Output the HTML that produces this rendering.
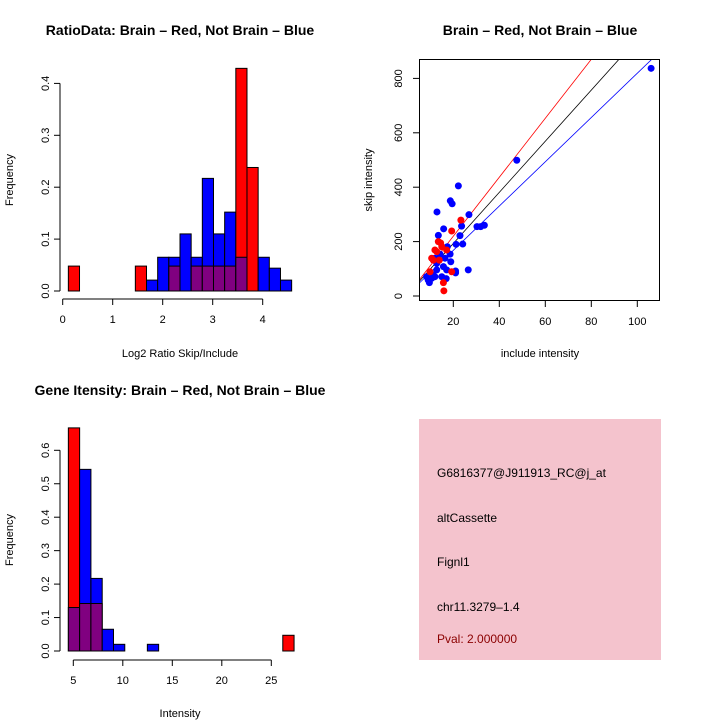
<!DOCTYPE html>
<html><head><meta charset="utf-8"><style>
body{margin:0;background:#fff;}
svg text{font-family:"Liberation Sans",sans-serif;}
</style></head><body>
<svg id="c" width="720" height="720" xmlns="http://www.w3.org/2000/svg">
<rect x="0" y="0" width="720" height="720" fill="#fff"/>
<text x="180" y="35" font-size="14" font-weight="bold" text-anchor="middle">RatioData: Brain – Red, Not Brain – Blue</text>
<text x="540" y="35" font-size="14" font-weight="bold" text-anchor="middle">Brain – Red, Not Brain – Blue</text>
<text x="180" y="395" font-size="14" font-weight="bold" text-anchor="middle">Gene Itensity: Brain – Red, Not Brain – Blue</text>
<text x="180" y="357" font-size="11" text-anchor="middle">Log2 Ratio Skip/Include</text>
<text transform="translate(13,180) rotate(-90)" font-size="11" text-anchor="middle">Frequency</text>
<text x="540" y="357" font-size="11" text-anchor="middle">include intensity</text>
<text transform="translate(372,180) rotate(-90)" font-size="11" text-anchor="middle">skip intensity</text>
<text x="180" y="717" font-size="11" text-anchor="middle">Intensity</text>
<text transform="translate(13,540) rotate(-90)" font-size="11" text-anchor="middle">Frequency</text>
<g>
<rect x="419" y="419" width="242" height="241" fill="#f4c3cd"/>
<text x="437" y="477" font-size="12">G6816377@J911913_RC@j_at</text>
<text x="437" y="522" font-size="12">altCassette</text>
<text x="437" y="566" font-size="12">Fignl1</text>
<text x="437" y="611" font-size="12">chr11.3279–1.4</text>
<text x="437" y="643" font-size="12" fill="#8b0000">Pval: 2.000000</text>
</g>
</svg>
<script>
// Ratio histogram data
const ratioRed = [0.048,0,0,0,0,0,0.048,0,0,0.048,0,0.048,0.048,0.048,0.048,0.429,0.238,0,0,0];
const ratioBlue = [0,0,0,0,0,0,0,0.021,0.065,0.065,0.11,0.065,0.217,0.11,0.152,0.065,0,0.065,0.044,0.021];
const ratioXTicks = [0,1,2,3,4];
const ratioYTicks = [0,0.1,0.2,0.3,0.4];
// Intensity histogram data
const intRed = [0.667,0.142,0.142,0,0,0,0,0,0,0,0,0,0,0,0,0,0,0,0,0.047];
const intBlue = [0.13,0.543,0.217,0.065,0.02,0,0,0.02,0,0,0,0,0,0,0,0,0,0,0,0];
const intXTicks = [5,10,15,20,25];
const intYTicks = [0,0.1,0.2,0.3,0.4,0.5,0.6];
// Scatter data
const blueX = [106,47.6,22.2,18.7,19.5,12.9,26.8,23.6,15.8,22.9,13.5,24.1,21.2,31.9,33.5,30.3,17.4,18.6,14.2,16.4,18.9,12.0,12.8,15.7,21.0,21.0,26.5,17.1,12.8,15.0,16.9,11.3,10.6,9.1,9.6,12.0,8.4];
const blueY = [837,499,405,350,339,309,299,257,247,222,223,191,190,255,260,255,181,154,154,139,126,139,120,108,92,85,96,96,96,71,64,77,65,59,49,71,71];
const redX = [23.3,19.3,13.5,14.5,15.0,12.0,12.8,10.6,11.3,13.9,19.3,15.7,15.9,17.1,9.9];
const redY = [279,239,200,195,181,169,163,139,132,132,89,49,19,169,89];
const scXTicks = [20,40,60,80,100];
const scYTicks = [0,200,400,600,800];
const fitSlope = [10.84,8.14,9.4];
const fitIntercept = [3,5,5];

const svg = document.getElementById('c');
const NS = 'http://www.w3.org/2000/svg';
function mk(tag, attrs){const e=document.createElementNS(NS,tag);for(const k in attrs)e.setAttribute(k,attrs[k]);svg.appendChild(e);return e;}

function hist(red, blue, x0, binW, xs, ys, xTicks, yTicks, axY, label){
  for(let i=0;i<red.length;i++){
    const r=red[i], b=blue[i];
    const left=xs(x0+i*binW), right=xs(x0+(i+1)*binW);
    const hi=Math.max(r,b), lo=Math.min(r,b);
    if(hi>0){
      const el=mk('rect',{x:left,y:ys(hi),width:right-left,height:ys(0)-ys(hi),fill:r>=b?'#ff0000':'#0000ff',stroke:'#000','stroke-width':1});
      
      
    }
    if(lo>0){
      const el=mk('rect',{x:left,y:ys(lo),width:right-left,height:ys(0)-ys(lo),fill:'#800080',stroke:'#000','stroke-width':1});
      
      
    }
  }
  const ax=60;
  mk('line',{x1:ax,y1:ys(yTicks[0]),x2:ax,y2:ys(yTicks[yTicks.length-1]),stroke:'#000'});
  yTicks.forEach(t=>{
    mk('line',{x1:ax-6,y1:ys(t),x2:ax,y2:ys(t),stroke:'#000'});
    const tx=mk('text',{transform:`translate(${ax-11},${ys(t)}) rotate(-90)`,'font-size':11,'text-anchor':'middle'});
    tx.textContent=String(t.toFixed(1));
    
    
  });
  mk('line',{x1:xs(xTicks[0]),y1:axY,x2:xs(xTicks[xTicks.length-1]),y2:axY,stroke:'#000'});
  xTicks.forEach(t=>{
    mk('line',{x1:xs(t),y1:axY,x2:xs(t),y2:axY+6,stroke:'#000'});
    const tx=mk('text',{x:xs(t),y:axY+24,'font-size':11,'text-anchor':'middle'});
    tx.textContent=String(t);
    
    
  });
}
hist(ratioRed, ratioBlue, 0.113, 0.2233, v=>62.7+v*50, v=>291-v*519, ratioXTicks, ratioYTicks, 299, 'ratio');
hist(intRed, intBlue, 4.5, 1.14, v=>73.3+(v-5)*9.9, v=>651-v*334.5, intXTicks, intYTicks, 660, 'intensity');

// scatter
const sx=v=>407.3+v*2.3, sy=v=>296-v*0.272;
const clip=mk('clipPath',{id:'sc'}); 
const cr=document.createElementNS(NS,'rect');cr.setAttribute('x',419);cr.setAttribute('y',59);cr.setAttribute('width',240);cr.setAttribute('height',241);clip.appendChild(cr);
const cols=['#ff0000','#0000ff','#000000'];
for(let i=0;i<3;i++){
  const l=mk('line',{x1:sx(0),y1:sy(fitIntercept[i]),x2:sx(120),y2:sy(fitIntercept[i]+120*fitSlope[i]),stroke:cols[i],'stroke-width':0.8,'clip-path':'url(#sc)'});
  
  
}
blueX.forEach((x,i)=>{
  const p=mk('circle',{cx:sx(x),cy:sy(blueY[i]),r:3.5,fill:'#0000ff'});
  
  
});
redX.forEach((x,i)=>{
  const p=mk('circle',{cx:sx(x),cy:sy(redY[i]),r:3.5,fill:'#ff0000'});
  
  
});
mk('rect',{x:419.5,y:59.5,width:240,height:241,fill:'none',stroke:'#000'});
scYTicks.forEach(t=>{
  mk('line',{x1:413,y1:sy(t),x2:419.5,y2:sy(t),stroke:'#000'});
  const tx=mk('text',{transform:`translate(402,${sy(t)}) rotate(-90)`,'font-size':11,'text-anchor':'middle'});
  tx.textContent=String(t);
  
  
});
scXTicks.forEach(t=>{
  mk('line',{x1:sx(t),y1:300.5,x2:sx(t),y2:307,stroke:'#000'});
  const tx=mk('text',{x:sx(t),y:325,'font-size':11,'text-anchor':'middle'});
  tx.textContent=String(t);
  
  
});
</script>
</body></html>
